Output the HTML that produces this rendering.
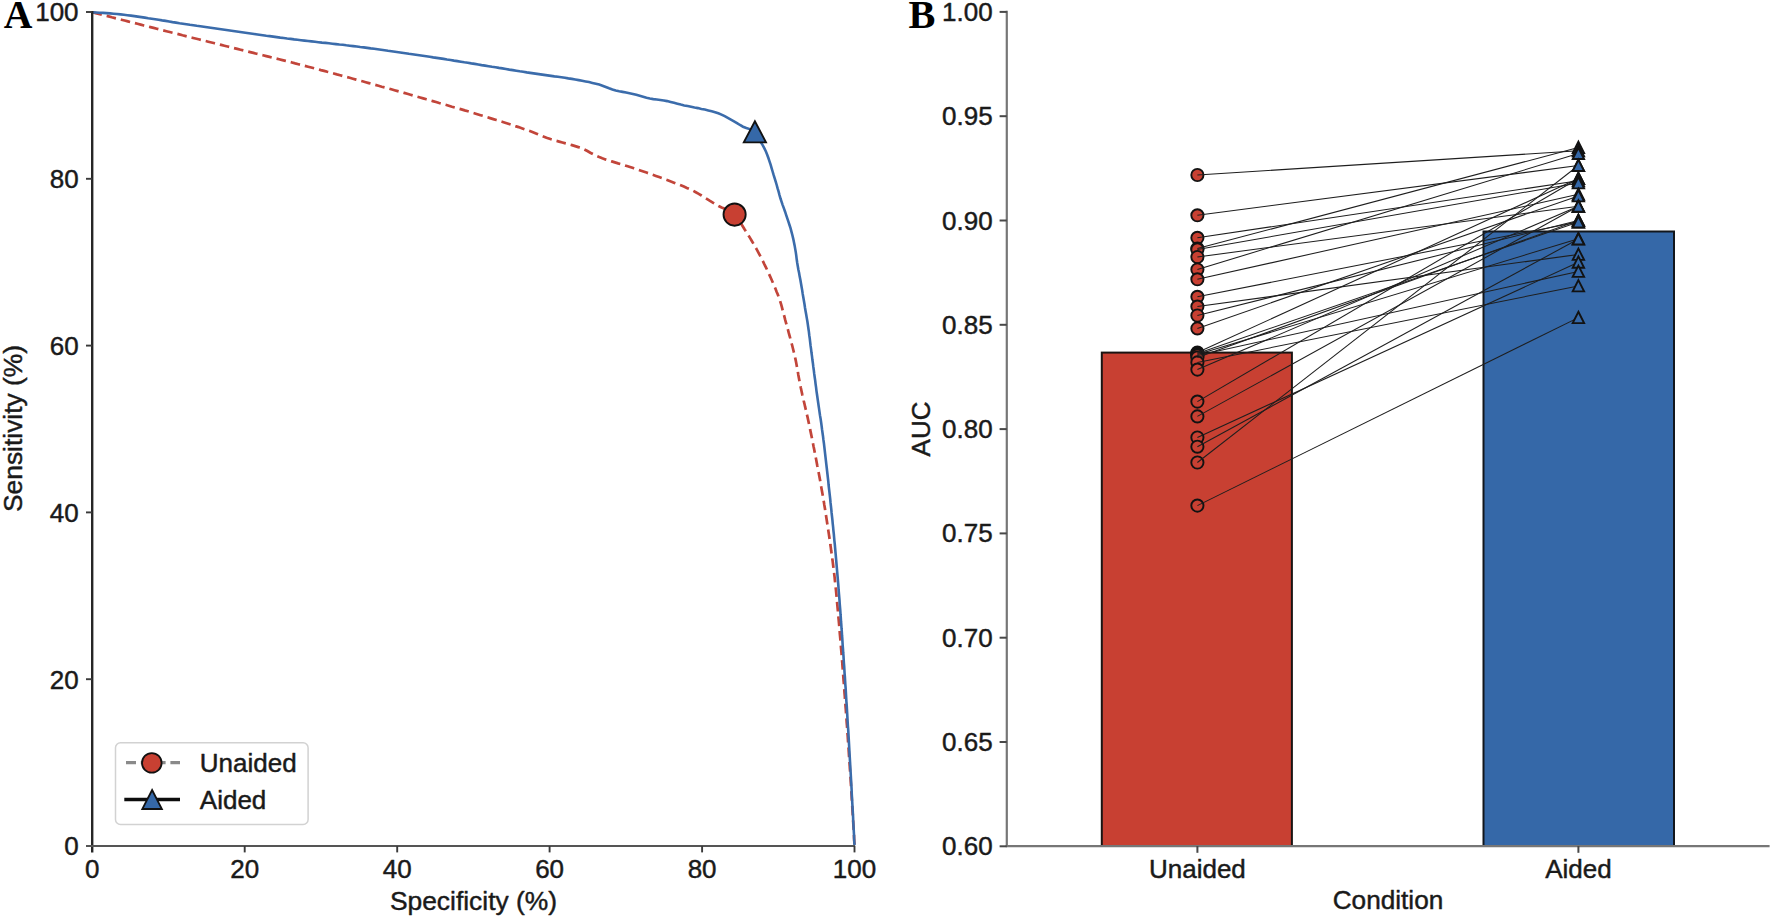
<!DOCTYPE html>
<html lang="en"><head><meta charset="utf-8"><title>Figure: ROC curves and AUC by condition</title>
<style>html,body{margin:0;padding:0;background:#fff}body{width:1772px;height:919px;overflow:hidden}svg{display:block}text{font-family:"Liberation Sans",Arial,Helvetica,sans-serif;fill:#1a1a1a;stroke:#1a1a1a;stroke-width:0.45px;stroke-linejoin:round}</style></head><body>
<svg width="1772" height="919" viewBox="0 0 1772 919" font-size="26">
<rect width="1772" height="919" fill="#fff"/>
<g id="panelA">
<text x="3.8" y="27.8" style="fill:#000;stroke:none;font-family:'Liberation Serif','Times New Roman',serif" font-weight="bold" font-size="39.7" fill="#000">A</text>
<path d="M92.5,12.3 L95.7,13.1 L98.9,14.0 L102.1,14.8 L105.4,15.6 L108.6,16.4 L111.8,17.3 L115.0,18.1 L118.2,18.9 L121.4,19.7 L124.6,20.5 L127.9,21.4 L131.1,22.2 L134.3,23.0 L137.5,23.8 L140.7,24.6 L143.9,25.5 L147.2,26.3 L150.4,27.1 L153.6,27.9 L156.8,28.7 L160.0,29.6 L163.2,30.4 L166.4,31.2 L169.7,32.0 L172.9,32.8 L176.1,33.6 L179.3,34.4 L182.5,35.3 L185.8,36.1 L189.0,36.9 L192.2,37.7 L195.4,38.5 L198.6,39.3 L201.8,40.1 L205.1,40.9 L208.3,41.7 L211.5,42.5 L214.7,43.3 L217.9,44.1 L221.2,44.9 L224.4,45.7 L227.6,46.5 L230.8,47.3 L234.0,48.1 L237.3,48.9 L240.5,49.7 L243.7,50.5 L246.9,51.3 L250.2,52.1 L253.4,52.9 L256.6,53.7 L259.8,54.5 L263.0,55.3 L266.3,56.1 L269.5,56.9 L272.7,57.7 L275.9,58.5 L279.1,59.3 L282.4,60.1 L285.6,60.9 L288.8,61.7 L292.0,62.5 L295.2,63.4 L298.4,64.2 L301.6,65.0 L304.9,65.9 L308.1,66.7 L311.3,67.5 L314.5,68.4 L317.7,69.2 L320.9,70.1 L324.1,70.9 L327.3,71.8 L330.5,72.6 L333.7,73.5 L336.9,74.4 L340.1,75.2 L343.3,76.1 L346.5,77.0 L349.7,77.8 L352.9,78.7 L356.1,79.6 L359.3,80.5 L362.5,81.3 L365.7,82.2 L368.9,83.1 L372.1,84.0 L375.3,84.9 L378.5,85.8 L381.7,86.7 L384.9,87.5 L388.1,88.4 L391.3,89.3 L394.5,90.2 L397.7,91.1 L400.9,92.0 L404.1,92.9 L407.3,93.8 L410.5,94.7 L413.7,95.7 L416.9,96.6 L420.1,97.5 L423.2,98.4 L426.4,99.3 L429.6,100.2 L432.8,101.1 L436.0,102.0 L439.2,103.0 L442.4,103.9 L445.6,104.8 L448.8,105.7 L451.9,106.7 L455.1,107.6 L458.3,108.5 L461.5,109.4 L464.7,110.4 L467.9,111.3 L471.0,112.3 L474.2,113.2 L477.4,114.2 L480.6,115.2 L483.7,116.1 L486.9,117.1 L490.1,118.1 L493.3,119.1 L496.4,120.0 L499.6,121.0 L502.8,122.0 L505.9,123.0 L509.1,124.0 L512.3,125.0 L515.4,126.1 L518.6,127.1 L521.7,128.2 L524.8,129.3 L528.0,130.4 L531.1,131.5 L534.2,132.7 L537.2,134.0 L540.3,135.3 L543.4,136.6 L546.5,137.8 L549.6,138.8 L552.8,139.8 L556.0,140.8 L559.2,141.6 L562.4,142.5 L565.6,143.4 L568.8,144.2 L572.0,145.1 L575.2,146.1 L578.3,147.1 L581.4,148.2 L584.4,149.5 L587.4,151.0 L590.3,152.7 L593.3,154.3 L596.2,155.8 L599.2,157.1 L602.3,158.3 L605.4,159.4 L608.6,160.4 L611.7,161.4 L614.9,162.4 L618.1,163.4 L621.3,164.3 L624.5,165.3 L627.7,166.3 L630.8,167.3 L634.0,168.3 L637.1,169.4 L640.3,170.5 L643.4,171.5 L646.5,172.6 L649.7,173.7 L652.8,174.8 L655.9,175.9 L659.1,177.1 L662.2,178.2 L665.3,179.4 L668.4,180.5 L671.5,181.7 L674.6,182.9 L677.7,184.1 L680.8,185.3 L683.9,186.5 L686.9,187.9 L689.9,189.2 L692.9,190.6 L695.8,192.2 L698.7,193.8 L701.5,195.5 L704.4,197.3 L707.2,199.1 L710.0,200.9 L712.8,202.6 L715.7,204.3 L718.6,206.0 L721.6,207.5 L724.8,208.8 L728.0,210.2 L731.0,211.6 L733.7,213.2 L736.0,215.2 L737.9,217.8 L739.6,220.7 L741.2,223.8 L743.0,226.7 L744.7,229.5 L746.5,232.3 L748.3,235.1 L750.0,237.9 L751.7,240.8 L753.4,243.6 L755.1,246.5 L756.7,249.4 L758.3,252.3 L759.8,255.2 L761.4,258.2 L762.9,261.1 L764.3,264.1 L765.8,267.1 L767.2,270.1 L768.6,273.1 L770.0,276.1 L771.4,279.2 L772.7,282.2 L774.0,285.3 L775.3,288.3 L776.5,291.4 L777.8,294.5 L778.9,297.6 L780.0,300.7 L781.0,303.9 L781.9,307.1 L782.7,310.3 L783.6,313.5 L784.4,316.7 L785.2,319.9 L786.1,323.1 L787.0,326.3 L787.9,329.5 L788.7,332.7 L789.6,335.9 L790.5,339.1 L791.3,342.3 L792.2,345.5 L793.0,348.8 L793.8,352.0 L794.6,355.2 L795.3,358.4 L796.0,361.7 L796.6,364.9 L797.2,368.2 L797.8,371.5 L798.3,374.8 L798.9,378.0 L799.5,381.3 L800.2,384.5 L800.8,387.8 L801.5,391.0 L802.2,394.3 L803.0,397.5 L803.7,400.7 L804.5,404.0 L805.2,407.2 L806.0,410.4 L806.7,413.7 L807.5,416.9 L808.2,420.2 L808.9,423.4 L809.6,426.6 L810.2,429.9 L810.9,433.1 L811.6,436.4 L812.2,439.6 L812.9,442.9 L813.5,446.2 L814.2,449.4 L814.8,452.7 L815.4,455.9 L816.1,459.2 L816.7,462.4 L817.3,465.7 L818.0,469.0 L818.6,472.2 L819.2,475.5 L819.8,478.7 L820.4,482.0 L820.9,485.3 L821.5,488.5 L822.1,491.8 L822.7,495.1 L823.2,498.4 L823.8,501.6 L824.3,504.9 L824.9,508.2 L825.4,511.5 L825.9,514.7 L826.4,518.0 L826.9,521.3 L827.4,524.6 L827.9,527.8 L828.4,531.1 L828.9,534.4 L829.4,537.7 L829.9,541.0 L830.3,544.3 L830.8,547.6 L831.2,550.8 L831.7,554.1 L832.1,557.4 L832.6,560.7 L833.0,564.0 L833.4,567.3 L833.8,570.6 L834.2,573.9 L834.6,577.2 L834.9,580.5 L835.3,583.8 L835.6,587.1 L836.0,590.4 L836.3,593.7 L836.6,597.0 L836.9,600.3 L837.2,603.6 L837.5,606.9 L837.8,610.2 L838.1,613.5 L838.4,616.8 L838.7,620.1 L839.0,623.4 L839.3,626.7 L839.6,630.0 L839.8,633.3 L840.1,636.6 L840.4,640.0 L840.7,643.3 L840.9,646.6 L841.2,649.9 L841.5,653.2 L841.7,656.5 L842.0,659.8 L842.3,663.1 L842.5,666.4 L842.8,669.7 L843.0,673.0 L843.3,676.3 L843.5,679.7 L843.8,683.0 L844.0,686.3 L844.3,689.6 L844.5,692.9 L844.8,696.2 L845.0,699.5 L845.3,702.8 L845.5,706.1 L845.8,709.4 L846.0,712.7 L846.2,716.1 L846.5,719.4 L846.7,722.7 L847.0,726.0 L847.2,729.3 L847.4,732.6 L847.7,735.9 L847.9,739.2 L848.1,742.5 L848.4,745.8 L848.6,749.2 L848.8,752.5 L849.0,755.8 L849.3,759.1 L849.5,762.4 L849.7,765.7 L849.9,769.0 L850.2,772.3 L850.4,775.6 L850.6,778.9 L850.8,782.3 L851.0,785.6 L851.2,788.9 L851.4,792.2 L851.6,795.5 L851.8,798.8 L852.0,802.1 L852.2,805.4 L852.4,808.8 L852.6,812.1 L852.8,815.4 L853.0,818.7 L853.2,822.0 L853.4,825.3 L853.6,828.6 L853.8,831.9 L854.0,835.3 L854.1,838.6 L854.3,841.9 L854.5,845.2" fill="none" stroke="#c2453a" stroke-width="2.7" stroke-dasharray="9.6 5"/>
<path d="M92.5,12.4 L96.0,12.5 L99.5,12.7 L103.0,12.9 L106.5,13.1 L110.0,13.4 L113.5,13.7 L117.0,14.0 L120.5,14.4 L123.9,14.8 L127.4,15.2 L130.9,15.6 L134.4,16.1 L137.8,16.6 L141.3,17.1 L144.8,17.6 L148.2,18.2 L151.7,18.7 L155.2,19.2 L158.6,19.8 L162.1,20.4 L165.6,20.9 L169.1,21.5 L172.5,22.1 L176.0,22.6 L179.5,23.2 L182.9,23.7 L186.4,24.2 L189.9,24.8 L193.3,25.3 L196.8,25.8 L200.3,26.2 L203.8,26.7 L207.2,27.2 L210.7,27.7 L214.2,28.2 L217.6,28.7 L221.1,29.2 L224.6,29.7 L228.1,30.2 L231.5,30.7 L235.0,31.2 L238.5,31.7 L241.9,32.2 L245.4,32.7 L248.9,33.2 L252.4,33.7 L255.8,34.2 L259.3,34.7 L262.8,35.2 L266.3,35.7 L269.7,36.1 L273.2,36.6 L276.7,37.1 L280.2,37.6 L283.6,38.0 L287.1,38.5 L290.6,38.9 L294.1,39.4 L297.5,39.8 L301.0,40.2 L304.5,40.6 L308.0,41.0 L311.5,41.4 L315.0,41.8 L318.4,42.2 L321.9,42.6 L325.4,42.9 L328.9,43.3 L332.4,43.7 L335.9,44.1 L339.4,44.5 L342.8,44.8 L346.3,45.3 L349.8,45.7 L353.3,46.1 L356.8,46.5 L360.2,47.0 L363.7,47.4 L367.2,47.9 L370.7,48.4 L374.2,48.8 L377.6,49.3 L381.1,49.8 L384.6,50.3 L388.0,50.8 L391.5,51.2 L395.0,51.7 L398.5,52.2 L401.9,52.7 L405.4,53.2 L408.9,53.8 L412.3,54.3 L415.8,54.8 L419.3,55.3 L422.8,55.8 L426.2,56.3 L429.7,56.8 L433.2,57.4 L436.6,57.9 L440.1,58.4 L443.6,58.9 L447.0,59.5 L450.5,60.0 L454.0,60.6 L457.4,61.1 L460.9,61.7 L464.3,62.3 L467.8,62.8 L471.3,63.4 L474.7,63.9 L478.2,64.5 L481.6,65.1 L485.1,65.6 L488.6,66.2 L492.0,66.8 L495.5,67.3 L499.0,67.9 L502.4,68.4 L505.9,69.0 L509.3,69.6 L512.8,70.1 L516.3,70.7 L519.7,71.3 L523.2,71.8 L526.7,72.4 L530.1,72.9 L533.6,73.4 L537.1,73.9 L540.5,74.4 L544.0,74.9 L547.5,75.4 L551.0,75.9 L554.4,76.4 L557.9,76.8 L561.4,77.3 L564.9,77.8 L568.3,78.4 L571.8,78.9 L575.2,79.5 L578.7,80.1 L582.1,80.7 L585.6,81.4 L589.0,82.1 L592.4,82.9 L595.9,83.7 L599.2,84.6 L602.5,85.7 L605.8,87.0 L609.1,88.3 L612.4,89.5 L615.7,90.5 L619.2,91.3 L622.6,91.9 L626.1,92.5 L629.5,93.2 L632.9,93.9 L636.3,94.8 L639.7,95.8 L643.1,96.8 L646.5,97.8 L649.9,98.5 L653.3,99.1 L656.8,99.5 L660.3,100.0 L663.8,100.5 L667.2,101.1 L670.6,101.9 L674.0,102.8 L677.4,103.7 L680.8,104.6 L684.2,105.4 L687.6,106.1 L691.1,106.8 L694.5,107.5 L698.0,108.1 L701.4,108.9 L704.8,109.6 L708.3,110.4 L711.7,111.2 L715.1,112.2 L718.3,113.3 L721.5,114.6 L724.7,116.2 L727.8,117.9 L730.9,119.6 L734.0,121.3 L737.0,123.1 L740.0,125.0 L743.0,126.7 L746.3,128.0 L749.7,129.1 L752.4,131.0 L754.5,133.9 L756.7,136.7 L758.9,139.5 L760.9,142.4 L762.8,145.4 L764.4,148.4 L765.9,151.5 L767.2,154.7 L768.4,158.0 L769.5,161.3 L770.6,164.7 L771.6,168.1 L772.6,171.5 L773.6,174.9 L774.7,178.3 L775.7,181.6 L776.7,185.0 L777.6,188.4 L778.6,191.7 L779.5,195.1 L780.5,198.5 L781.6,201.8 L782.7,205.1 L783.9,208.4 L785.1,211.7 L786.2,215.1 L787.3,218.4 L788.4,221.7 L789.5,225.0 L790.6,228.4 L791.5,231.8 L792.4,235.2 L793.2,238.6 L793.9,242.0 L794.6,245.4 L795.2,248.9 L795.8,252.4 L796.3,255.8 L796.7,259.3 L797.2,262.8 L797.8,266.2 L798.4,269.7 L799.1,273.1 L799.7,276.6 L800.4,280.0 L801.0,283.5 L801.6,286.9 L802.2,290.4 L802.7,293.9 L803.3,297.3 L803.9,300.8 L804.5,304.2 L805.0,307.7 L805.6,311.2 L806.2,314.6 L806.8,318.1 L807.4,321.5 L807.9,325.0 L808.4,328.5 L808.9,331.9 L809.3,335.4 L809.8,338.9 L810.2,342.4 L810.6,345.9 L811.1,349.3 L811.5,352.8 L812.0,356.3 L812.4,359.8 L812.9,363.2 L813.3,366.7 L813.8,370.2 L814.2,373.7 L814.7,377.2 L815.2,380.6 L815.6,384.1 L816.1,387.6 L816.5,391.1 L817.0,394.5 L817.5,398.0 L818.0,401.5 L818.5,405.0 L819.0,408.4 L819.5,411.9 L820.0,415.4 L820.6,418.8 L821.1,422.3 L821.6,425.8 L822.0,429.2 L822.5,432.7 L823.0,436.2 L823.4,439.7 L823.9,443.2 L824.3,446.6 L824.7,450.1 L825.1,453.6 L825.5,457.1 L825.9,460.6 L826.3,464.1 L826.7,467.5 L827.1,471.0 L827.5,474.5 L827.9,478.0 L828.3,481.5 L828.6,485.0 L829.0,488.5 L829.4,491.9 L829.8,495.4 L830.2,498.9 L830.5,502.4 L830.9,505.9 L831.3,509.4 L831.6,512.9 L832.0,516.4 L832.4,519.8 L832.7,523.3 L833.1,526.8 L833.4,530.3 L833.8,533.8 L834.1,537.3 L834.4,540.8 L834.8,544.3 L835.1,547.8 L835.4,551.3 L835.7,554.7 L836.0,558.2 L836.3,561.7 L836.6,565.2 L836.9,568.7 L837.2,572.2 L837.5,575.7 L837.8,579.2 L838.1,582.7 L838.4,586.2 L838.6,589.7 L838.9,593.2 L839.2,596.7 L839.5,600.2 L839.7,603.7 L840.0,607.2 L840.3,610.7 L840.5,614.2 L840.8,617.7 L841.0,621.2 L841.3,624.7 L841.5,628.2 L841.8,631.7 L842.0,635.2 L842.3,638.7 L842.5,642.2 L842.7,645.7 L843.0,649.2 L843.2,652.7 L843.5,656.2 L843.7,659.7 L843.9,663.1 L844.2,666.6 L844.4,670.1 L844.6,673.6 L844.9,677.1 L845.1,680.6 L845.3,684.1 L845.6,687.6 L845.8,691.1 L846.0,694.6 L846.2,698.1 L846.4,701.6 L846.7,705.1 L846.9,708.6 L847.1,712.1 L847.3,715.6 L847.5,719.1 L847.7,722.6 L847.9,726.1 L848.2,729.6 L848.4,733.1 L848.6,736.6 L848.8,740.1 L849.0,743.6 L849.2,747.2 L849.4,750.7 L849.6,754.2 L849.8,757.7 L850.0,761.2 L850.2,764.7 L850.4,768.2 L850.6,771.7 L850.8,775.2 L851.0,778.7 L851.2,782.2 L851.4,785.7 L851.6,789.2 L851.7,792.7 L851.9,796.2 L852.1,799.7 L852.3,803.2 L852.5,806.7 L852.7,810.2 L852.9,813.7 L853.1,817.2 L853.2,820.7 L853.4,824.2 L853.6,827.7 L853.8,831.2 L854.0,834.7 L854.1,838.2 L854.3,841.7 L854.5,845.2" fill="none" stroke="#3b6cab" stroke-width="2.6"/>
<line x1="92.2" y1="11" x2="92.2" y2="852.4" stroke="#262626" stroke-width="2.4"/>
<line x1="86" y1="846.1" x2="855" y2="846.1" stroke="#555" stroke-width="2"/>
<text x="92.3" y="877.7" text-anchor="middle">0</text>
<text x="78.6" y="855.3" text-anchor="end">0</text>
<line x1="244.7" y1="846" x2="244.7" y2="852.4" stroke="#3a3a3a" stroke-width="1.9"/>
<line x1="86" y1="679.2" x2="92.2" y2="679.2" stroke="#3a3a3a" stroke-width="1.9"/>
<text x="244.7" y="877.7" text-anchor="middle">20</text>
<text x="78.6" y="688.5" text-anchor="end">20</text>
<line x1="397.2" y1="846" x2="397.2" y2="852.4" stroke="#3a3a3a" stroke-width="1.9"/>
<line x1="86" y1="512.4" x2="92.2" y2="512.4" stroke="#3a3a3a" stroke-width="1.9"/>
<text x="397.2" y="877.7" text-anchor="middle">40</text>
<text x="78.6" y="521.7" text-anchor="end">40</text>
<line x1="549.6" y1="846" x2="549.6" y2="852.4" stroke="#3a3a3a" stroke-width="1.9"/>
<line x1="86" y1="345.6" x2="92.2" y2="345.6" stroke="#3a3a3a" stroke-width="1.9"/>
<text x="549.6" y="877.7" text-anchor="middle">60</text>
<text x="78.6" y="354.9" text-anchor="end">60</text>
<line x1="702.1" y1="846" x2="702.1" y2="852.4" stroke="#3a3a3a" stroke-width="1.9"/>
<line x1="86" y1="178.8" x2="92.2" y2="178.8" stroke="#3a3a3a" stroke-width="1.9"/>
<text x="702.1" y="877.7" text-anchor="middle">80</text>
<text x="78.6" y="188.1" text-anchor="end">80</text>
<line x1="854.5" y1="846" x2="854.5" y2="852.4" stroke="#3a3a3a" stroke-width="1.9"/>
<line x1="86" y1="12.0" x2="92.2" y2="12.0" stroke="#3a3a3a" stroke-width="1.9"/>
<text x="854.5" y="877.7" text-anchor="middle">100</text>
<text x="78.6" y="21.3" text-anchor="end">100</text>
<text x="473.5" y="909.5" text-anchor="middle" font-size="26.4">Specificity (%)</text>
<text transform="translate(22.2,428.5) rotate(-90)" text-anchor="middle" font-size="26.4">Sensitivity (%)</text>
<circle cx="734.6" cy="214.6" r="11.1" fill="#c84032" stroke="#111" stroke-width="1.85"/>
<path d="M754.9,121.3 L766,142.4 L743.8,142.4 Z" fill="#3568a8" stroke="#111" stroke-width="1.85" stroke-linejoin="miter"/>
<rect x="115.5" y="742.7" width="192.6" height="81.7" rx="5" ry="5" fill="#fff" stroke="#d2d2d2" stroke-width="1.5"/>
<line x1="126" y1="762.6" x2="180" y2="762.6" stroke="#8a8a8a" stroke-width="3.2" stroke-dasharray="10 4.8"/>
<circle cx="151.8" cy="762.9" r="9.8" fill="#c84032" stroke="#111" stroke-width="1.8"/>
<text x="199.8" y="772">Unaided</text>
<line x1="124.3" y1="799.6" x2="180" y2="799.6" stroke="#0d0d0d" stroke-width="3.5"/>
<path d="M152.1,790 L161.9,809 L142.3,809 Z" fill="#3568a8" stroke="#111" stroke-width="1.8"/>
<text x="199.8" y="808.6">Aided</text>
</g>
<g id="panelB">
<text x="908.4" y="27.9" style="fill:#000;stroke:none;font-family:'Liberation Serif','Times New Roman',serif" font-weight="bold" font-size="40.3" fill="#000">B</text>
<rect x="1101.8" y="352.6" width="190.1" height="493.4" fill="#c84032" stroke="#1a1412" stroke-width="2"/>
<rect x="1483.5" y="231.5" width="190.5" height="614.5" fill="#3568a8" stroke="#12161c" stroke-width="2"/>
<line x1="1006.8" y1="10.8" x2="1006.8" y2="847" stroke="#767676" stroke-width="2.2"/>
<line x1="1005.7" y1="846.1" x2="1769.6" y2="846.1" stroke="#767676" stroke-width="2.1"/>
<line x1="999.6" y1="11.9" x2="1006.8" y2="11.9" stroke="#484848" stroke-width="2"/>
<text x="992.6" y="20.9" text-anchor="end">1.00</text>
<line x1="999.6" y1="116.2" x2="1006.8" y2="116.2" stroke="#484848" stroke-width="2"/>
<text x="992.6" y="125.2" text-anchor="end">0.95</text>
<line x1="999.6" y1="220.5" x2="1006.8" y2="220.5" stroke="#484848" stroke-width="2"/>
<text x="992.6" y="229.5" text-anchor="end">0.90</text>
<line x1="999.6" y1="324.8" x2="1006.8" y2="324.8" stroke="#484848" stroke-width="2"/>
<text x="992.6" y="333.8" text-anchor="end">0.85</text>
<line x1="999.6" y1="429.1" x2="1006.8" y2="429.1" stroke="#484848" stroke-width="2"/>
<text x="992.6" y="438.1" text-anchor="end">0.80</text>
<line x1="999.6" y1="533.4" x2="1006.8" y2="533.4" stroke="#484848" stroke-width="2"/>
<text x="992.6" y="542.4" text-anchor="end">0.75</text>
<line x1="999.6" y1="637.7" x2="1006.8" y2="637.7" stroke="#484848" stroke-width="2"/>
<text x="992.6" y="646.7" text-anchor="end">0.70</text>
<line x1="999.6" y1="742.0" x2="1006.8" y2="742.0" stroke="#484848" stroke-width="2"/>
<text x="992.6" y="751.0" text-anchor="end">0.65</text>
<line x1="999.6" y1="846.3" x2="1006.8" y2="846.3" stroke="#484848" stroke-width="2"/>
<text x="992.6" y="855.3" text-anchor="end">0.60</text>
<line x1="1197.4" y1="846" x2="1197.4" y2="852.8" stroke="#484848" stroke-width="2"/>
<text x="1197.4" y="877.5" text-anchor="middle">Unaided</text>
<line x1="1578.4" y1="846" x2="1578.4" y2="852.8" stroke="#484848" stroke-width="2"/>
<text x="1578.4" y="877.5" text-anchor="middle">Aided</text>
<text x="1388" y="908.9" text-anchor="middle" font-size="26.2">Condition</text>
<text transform="translate(930.4,429) rotate(-90)" text-anchor="middle">AUC</text>
<g fill="#c84032" stroke="#121212" stroke-width="1.9">
<circle cx="1197.4" cy="175.0" r="6.1"/>
<circle cx="1197.4" cy="215.3" r="6.1"/>
<circle cx="1197.4" cy="237.8" r="6.1"/>
<circle cx="1197.4" cy="248.6" r="6.1"/>
<circle cx="1197.4" cy="249.5" r="6.1"/>
<circle cx="1197.4" cy="257" r="6.1"/>
<circle cx="1197.4" cy="269.5" r="6.1"/>
<circle cx="1197.4" cy="279.3" r="6.1"/>
<circle cx="1197.4" cy="296.8" r="6.1"/>
<circle cx="1197.4" cy="306.6" r="6.1"/>
<circle cx="1197.4" cy="315.5" r="6.1"/>
<circle cx="1197.4" cy="328.4" r="6.1"/>
<circle cx="1197.4" cy="352.6" r="6.1"/>
<circle cx="1197.4" cy="353.5" r="6.1"/>
<circle cx="1197.4" cy="354.5" r="6.1"/>
<circle cx="1197.4" cy="355.5" r="6.1"/>
<circle cx="1197.4" cy="357.5" r="6.1"/>
<circle cx="1197.4" cy="362.4" r="6.1"/>
<circle cx="1197.4" cy="369.6" r="6.1"/>
<circle cx="1197.4" cy="401.6" r="6.1"/>
<circle cx="1197.4" cy="416.4" r="6.1"/>
<circle cx="1197.4" cy="437.5" r="6.1"/>
<circle cx="1197.4" cy="446.7" r="6.1"/>
<circle cx="1197.4" cy="462.5" r="6.1"/>
<circle cx="1197.4" cy="505.6" r="6.1"/>
</g>
<g stroke="#1e1e1e" stroke-width="1.05" fill="none">
<line x1="1197.4" y1="175.0" x2="1578.4" y2="150.8"/>
<line x1="1197.4" y1="215.3" x2="1578.4" y2="165.5"/>
<line x1="1197.4" y1="237.8" x2="1578.4" y2="180.7"/>
<line x1="1197.4" y1="248.6" x2="1578.4" y2="147.5"/>
<line x1="1197.4" y1="249.5" x2="1578.4" y2="182.9"/>
<line x1="1197.4" y1="257" x2="1578.4" y2="206.3"/>
<line x1="1197.4" y1="269.5" x2="1578.4" y2="153.5"/>
<line x1="1197.4" y1="279.3" x2="1578.4" y2="194.3"/>
<line x1="1197.4" y1="296.8" x2="1578.4" y2="222"/>
<line x1="1197.4" y1="306.6" x2="1578.4" y2="254.4"/>
<line x1="1197.4" y1="315.5" x2="1578.4" y2="220.4"/>
<line x1="1197.4" y1="328.4" x2="1578.4" y2="195.9"/>
<line x1="1197.4" y1="352.6" x2="1578.4" y2="178.5"/>
<line x1="1197.4" y1="353.5" x2="1578.4" y2="222"/>
<line x1="1197.4" y1="354.5" x2="1578.4" y2="238.8"/>
<line x1="1197.4" y1="355.5" x2="1578.4" y2="271.4"/>
<line x1="1197.4" y1="357.5" x2="1578.4" y2="220.4"/>
<line x1="1197.4" y1="362.4" x2="1578.4" y2="285.9"/>
<line x1="1197.4" y1="369.6" x2="1578.4" y2="206.3"/>
<line x1="1197.4" y1="401.6" x2="1578.4" y2="178.5"/>
<line x1="1197.4" y1="416.4" x2="1578.4" y2="206.3"/>
<line x1="1197.4" y1="437.5" x2="1578.4" y2="262.2"/>
<line x1="1197.4" y1="446.7" x2="1578.4" y2="239"/>
<line x1="1197.4" y1="462.5" x2="1578.4" y2="165.5"/>
<line x1="1197.4" y1="505.6" x2="1578.4" y2="317.6"/>
</g>
<g fill="#3568a8" stroke="#121212" stroke-width="1.9" stroke-linejoin="miter">
<path d="M1578.4,141.7 L1584.1,153.0 L1572.7,153.0 Z"/>
<path d="M1578.4,145.0 L1584.1,156.3 L1572.7,156.3 Z"/>
<path d="M1578.4,147.7 L1584.1,159.0 L1572.7,159.0 Z"/>
<path d="M1578.4,159.7 L1584.1,171.0 L1572.7,171.0 Z"/>
<path d="M1578.4,159.7 L1584.1,171.0 L1572.7,171.0 Z"/>
<path d="M1578.4,172.7 L1584.1,184.0 L1572.7,184.0 Z"/>
<path d="M1578.4,172.7 L1584.1,184.0 L1572.7,184.0 Z"/>
<path d="M1578.4,174.9 L1584.1,186.2 L1572.7,186.2 Z"/>
<path d="M1578.4,177.1 L1584.1,188.4 L1572.7,188.4 Z"/>
<path d="M1578.4,188.5 L1584.1,199.8 L1572.7,199.8 Z"/>
<path d="M1578.4,190.1 L1584.1,201.4 L1572.7,201.4 Z"/>
<path d="M1578.4,200.5 L1584.1,211.8 L1572.7,211.8 Z"/>
<path d="M1578.4,200.5 L1584.1,211.8 L1572.7,211.8 Z"/>
<path d="M1578.4,200.5 L1584.1,211.8 L1572.7,211.8 Z"/>
<path d="M1578.4,214.6 L1584.1,225.9 L1572.7,225.9 Z"/>
<path d="M1578.4,214.6 L1584.1,225.9 L1572.7,225.9 Z"/>
<path d="M1578.4,216.2 L1584.1,227.5 L1572.7,227.5 Z"/>
<path d="M1578.4,216.2 L1584.1,227.5 L1572.7,227.5 Z"/>
<path d="M1578.4,233.0 L1584.1,244.3 L1572.7,244.3 Z"/>
<path d="M1578.4,233.2 L1584.1,244.5 L1572.7,244.5 Z"/>
<path d="M1578.4,248.6 L1584.1,259.9 L1572.7,259.9 Z"/>
<path d="M1578.4,256.4 L1584.1,267.7 L1572.7,267.7 Z"/>
<path d="M1578.4,265.6 L1584.1,276.9 L1572.7,276.9 Z"/>
<path d="M1578.4,280.1 L1584.1,291.4 L1572.7,291.4 Z"/>
<path d="M1578.4,311.8 L1584.1,323.1 L1572.7,323.1 Z"/>
</g>
</g>
</svg></body></html>
